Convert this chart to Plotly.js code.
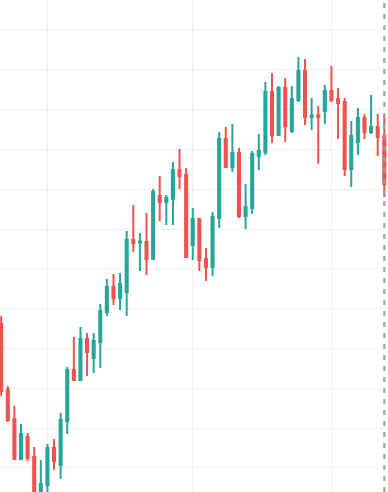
<!DOCTYPE html>
<html>
<head>
<meta charset="utf-8">
<script src="https://cdn.plot.ly/plotly-3.0.1.min.js"></script>
<style>
  html, body { margin: 0; padding: 0; background: #ffffff; }
  #chart { width: 388px; height: 492px; }
</style>
</head>
<body>
<div id="chart"></div>
<script>
const open = [136.16, 119.59, 112.31, 102.26, 107.79, 102.76, 93.3, 95.73, 105.02, 100.75,
  111.80, 124.61, 122.10, 132.40, 127.62, 131.64, 139.18, 145.45, 142.69, 144.20,
  157.26, 156.63, 156.76, 152.49, 168.31, 166.80, 167.55, 174.84, 173.58, 156.00,
  162.53, 152.49, 150.48, 162.78, 182.62, 175.59, 179.11, 163.28, 165.29, 178.35,
  179.36, 194.43, 183.63, 195.43, 184.63, 192.42, 199.70, 188.15, 188.52, 189.65,
  194.68, 192.67, 191.91, 175.09, 181.87, 187.90, 184.38, 185.64, 183.38];
const high = [138.17, 120.59, 115.57, 111.05, 108.79, 105.27, 102.01, 106.03, 107.28, 113.81,
  125.36, 132.90, 135.41, 133.90, 133.90, 141.19, 147.46, 148.72, 148.97, 159.52,
  166.05, 159.02, 164.04, 170.07, 173.33, 168.56, 176.85, 180.11, 175.34, 165.29,
  162.78, 155.25, 164.29, 184.38, 185.64, 186.39, 180.36, 171.32, 179.61, 183.88,
  196.94, 199.20, 195.93, 197.94, 195.93, 203.21, 202.71, 192.92, 190.91, 196.18,
  200.95, 195.43, 192.92, 187.14, 190.41, 188.90, 193.67, 188.90, 188.65];
const low = [118.08, 111.55, 102.01, 102.01, 101.76, 92.2, 92.6, 93.47, 99.50, 97.24,
  108.54, 121.85, 121.85, 123.10, 123.86, 125.11, 138.17, 140.93, 139.68, 138.17,
  154.24, 149.47, 148.47, 152.24, 162.03, 161.02, 161.02, 170.07, 152.86, 152.24,
  149.47, 146.96, 148.22, 160.27, 175.34, 174.33, 162.78, 160.02, 163.79, 174.84,
  178.60, 181.62, 183.38, 181.87, 184.13, 191.91, 186.14, 184.88, 176.34, 186.39,
  191.91, 182.62, 173.33, 170.57, 178.60, 182.62, 183.88, 178.35, 168.06];
const close = [119.34, 112.05, 102.26, 108.54, 102.51, 93.0, 95.98, 105.02, 101.76, 112.05,
  124.61, 122.10, 132.40, 129.13, 131.89, 139.43, 145.45, 142.69, 146.21, 157.26,
  156.50, 156.88, 152.49, 169.31, 166.80, 167.81, 174.84, 173.33, 152.99, 162.53,
  152.24, 150.48, 163.03, 182.62, 175.59, 179.11, 163.28, 165.55, 178.85, 179.61,
  194.43, 183.63, 195.43, 185.89, 192.67, 199.70, 188.15, 188.52, 188.15, 194.68,
  192.42, 191.66, 175.09, 183.38, 187.90, 184.38, 185.64, 183.12, 171.32];
const monthStarts = [7, 29, 50];
const priceTicks = [100, 110, 120, 130, 140, 150, 160, 170, 180, 190, 200, 210];

const x = open.map((_, i) => i);
const lastIndex = x[x.length - 1];

const green = '#26a69a';
const red = '#ef5350';

const trace = {
  type: 'candlestick',
  x: x,
  open: open,
  high: high,
  low: low,
  close: close,
  increasing: { line: { color: green, width: 2 }, fillcolor: green },
  decreasing: { line: { color: red, width: 2 }, fillcolor: red },
  whiskerwidth: 0,
  hoverinfo: 'none',
  showlegend: false
};

const layout = {
  width: 388,
  height: 492,
  margin: { l: 0, r: 0, t: 0, b: 0, pad: 0 },
  paper_bgcolor: '#ffffff',
  plot_bgcolor: '#ffffff',
  showlegend: false,
  boxgap: 0.55,
  xaxis: {
    range: [-0.18, 58.56],
    tickmode: 'array',
    tickvals: monthStarts,
    showticklabels: false,
    ticks: '',
    showgrid: true,
    gridcolor: '#efefef',
    gridwidth: 1,
    zeroline: false,
    showline: false,
    rangeslider: { visible: false },
    fixedrange: true
  },
  yaxis: {
    range: [93.97, 217.53],
    tickmode: 'array',
    tickvals: priceTicks,
    showticklabels: false,
    ticks: '',
    showgrid: true,
    gridcolor: '#efefef',
    gridwidth: 1,
    zeroline: false,
    showline: false,
    fixedrange: true
  },
  shapes: [{
    type: 'line',
    xref: 'x',
    yref: 'paper',
    x0: lastIndex,
    x1: lastIndex,
    y0: 0,
    y1: 1,
    layer: 'above',
    line: { color: '#9b9ea6', width: 2, dash: '5px,6px' }
  }]
};

Plotly.newPlot('chart', [trace], layout, { displayModeBar: false, staticPlot: true });
</script>
</body>
</html>
